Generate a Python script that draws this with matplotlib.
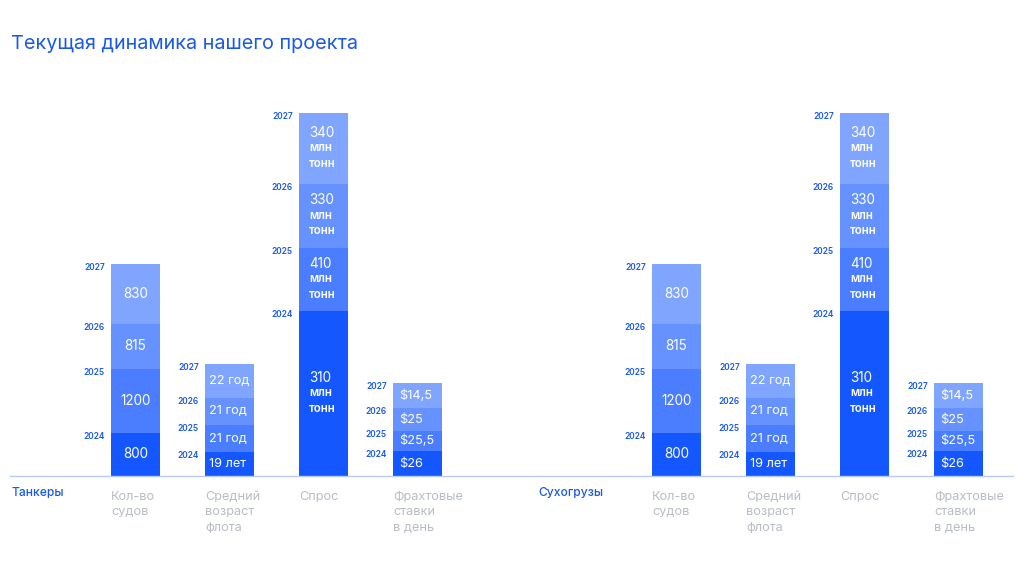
import matplotlib
matplotlib.use('Agg')
import matplotlib.pyplot as plt

plt.rcParams['font.family'] = ['Inter', 'DejaVu Sans']

# data (segment heights are visual sizes, bottom -> top)
groups = ['Танкеры', 'Сухогрузы']
years = ['2024', '2025', '2026', '2027']
categories = ['Кол-во\nсудов', 'Средний\nвозраст\nфлота', 'Спрос', 'Фрахтовые\nставки\nв день']

ships_h = [43, 64, 45, 60]
age_h = [24, 27, 27, 34]
demand_h = [165, 63, 64, 71]
rates_h = [25, 20, 23, 25]

ships_labels = ['800', '1200', '815', '830']
age_labels = ['19 лет', '21 год', '21 год', '22 год']
demand_labels = ['310', '410', '330', '340']
demand_unit = 'млн\nтонн'
rates_labels = ['$26', '$25,5', '$25', '$14,5']

heights = [ships_h, age_h, demand_h, rates_h]
labels = [ships_labels, age_labels, demand_labels, rates_labels]

colors = ['#1457ff', '#4a7dff', '#6592ff', '#7fa5ff']
BLUE = '#1a5ae6'
GRAY = '#b9bdc7'

fig = plt.figure(figsize=(10.24, 5.76), dpi=100)
ax = fig.add_axes([0, 0, 1, 1])
ax.set_xlim(0, 1024)
ax.set_ylim(-100, 476)
ax.axis('off')

group_start = [135.5, 676.5]
group_text_x = [11, 538]
step = 94
width = 49
pads = [None, 4, 10, 6]

for g, gname in enumerate(groups):
    ax.text(group_text_x[g], -16.5, gname, color=BLUE, fontsize=8.7,
            fontweight='medium', ha='left', va='center')
    for i in range(4):
        xc = group_start[g] + i * step
        left = xc - width / 2
        bottom = 0
        for k, h in enumerate(heights[i]):
            ax.bar(xc, h, width=width, bottom=bottom, color=colors[k],
                   linewidth=0)
            top = bottom + h
            mid = bottom + h / 2
            # year label next to the top edge of the segment
            ax.text(left - 6, top - 3.5, years[k], color=BLUE, fontsize=6,
                    fontweight='semibold', ha='right', va='center')
            if i == 0:
                ax.text(xc, mid, labels[i][k], color='white', fontsize=9.7,
                        ha='center', va='center')
            elif i == 2:
                ax.text(left + pads[i], mid + 15.5, labels[i][k], color='white',
                        fontsize=9.7, ha='left', va='center')
                ax.text(left + pads[i], mid - 7.5, demand_unit, color='white',
                        fontsize=8.3, fontweight='semibold', ha='left',
                        va='center', linespacing=1.35)
            else:
                ax.text(left + pads[i], mid, labels[i][k], color='white',
                        fontsize=9.2, ha='left', va='center')
            bottom = top
        ax.text(left, -15, categories[i], color=GRAY, fontsize=9.2,
                ha='left', va='top', linespacing=1.38)

ax.plot([10, 1013], [0, 0], color='#b8cbf5', linewidth=1)

ax.text(11, 476 - 44, 'Текущая динамика нашего проекта', color=BLUE,
        fontsize=14.3, ha='left', va='center')

fig.savefig('out.png', dpi=100)
